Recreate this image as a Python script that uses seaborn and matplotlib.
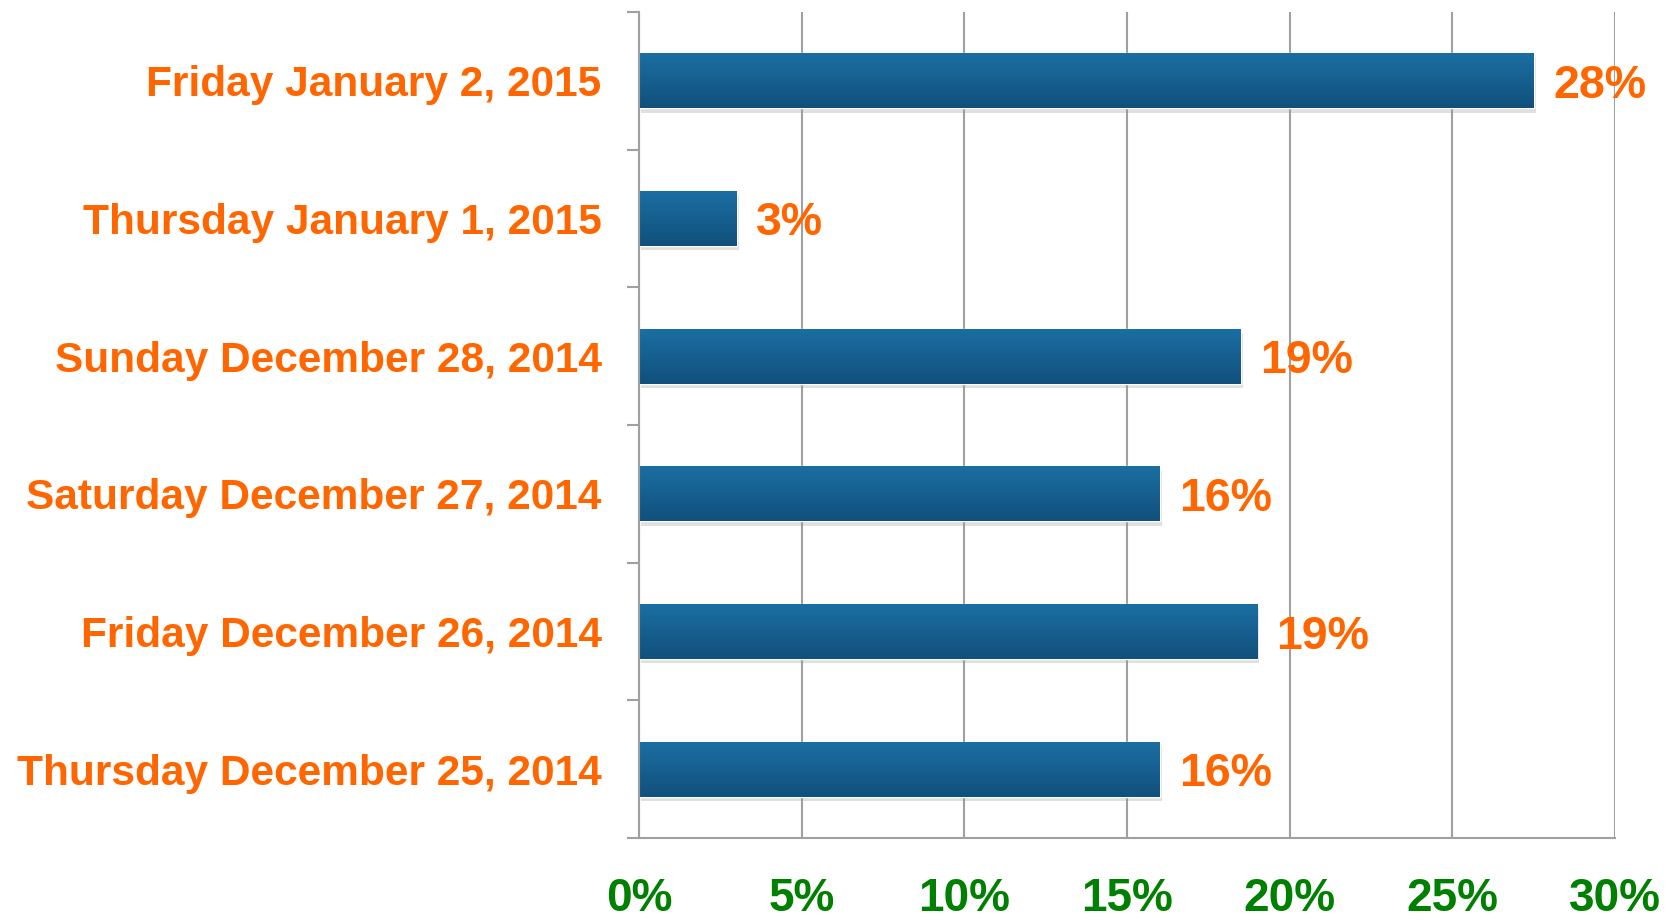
import math
import numpy as np
import pandas as pd
import matplotlib
matplotlib.use("Agg")
import matplotlib.pyplot as plt
import matplotlib.patheffects as pe
from matplotlib.colors import LinearSegmentedColormap
import seaborn as sns

# data (top to bottom as shown)
days = [
    "Friday January 2, 2015",
    "Thursday January 1, 2015",
    "Sunday December 28, 2014",
    "Saturday December 27, 2014",
    "Friday December 26, 2014",
    "Thursday December 25, 2014",
]
share = [27.5, 3.0, 18.5, 16.0, 19.0, 16.0]
x_ticks = [0, 5, 10, 15, 20, 25, 30]

df = pd.DataFrame({"day": days, "share": share})

sns.set_style("white")
plt.rcParams["font.family"] = ["Liberation Sans", "DejaVu Sans"]
plt.rcParams["font.weight"] = "bold"

orange = "#ff6600"
green = "#008000"
grid_gray = "#a0a0a0"

fig = plt.figure(figsize=(16.75, 9.21), dpi=100)
ax = fig.add_axes([0.3815, 0.0901, 0.9642 - 0.3815, 0.987 - 0.0901])

sns.barplot(data=df, x="share", y="day", orient="h", color="#196a9c",
            width=0.4, ax=ax, saturation=1)

# gradient fill + soft drop shadow for each bar
cmap = LinearSegmentedColormap.from_list("bar", ["#1b6fa3", "#11507c"])
grad = np.linspace(0, 1, 100).reshape(-1, 1)
for p in ax.patches:
    p.set_path_effects([pe.SimplePatchShadow(offset=(1.5, -3), shadow_rgbFace="#999999", alpha=0.3),
                        pe.Normal()])
    x0, y0, w, h = p.get_x(), p.get_y(), p.get_width(), p.get_height()
    im = ax.imshow(grad, cmap=cmap, aspect="auto", origin="upper",
                   extent=(x0, x0 + w, y0 + h, y0), zorder=p.get_zorder() + 0.1)
    im.set_clip_path(p)

ax.set_xlim(0, 30)
ax.set_ylim(5.5, -0.5)

# value labels (rounded half up, like the source)
for i, v in enumerate(share):
    ax.annotate(f"{math.floor(v + 0.5)}%", (v, i),
                xytext=(14, 0), textcoords="offset points",
                ha="left", va="center_baseline", fontsize=33.5, fontweight="bold", color=orange)

ax.set_xticks(x_ticks)
ax.set_xticklabels([f"{t}%" for t in x_ticks])
ax.set_yticks(range(len(days)))
ax.set_yticklabels(days)
ax.set_yticks(np.arange(-0.5, len(days), 1), minor=True)

ax.tick_params(axis="x", length=10, width=1.5, color=grid_gray, pad=18,
               labelsize=33, labelcolor=green)
ax.tick_params(axis="y", which="major", length=0, pad=27,
               labelsize=30.5, labelcolor=orange)
ax.tick_params(axis="y", which="minor", length=9, width=1.5, color=grid_gray, left=True)
for lab in ax.get_xticklabels() + ax.get_yticklabels():
    lab.set_fontweight("bold")

ax.grid(axis="x", color=grid_gray, linewidth=1.5)
ax.set_axisbelow(True)
for s in ["top", "right"]:
    ax.spines[s].set_visible(False)
for s in ["left", "bottom"]:
    ax.spines[s].set_color(grid_gray)
    ax.spines[s].set_linewidth(1.5)
ax.set_xlabel("")
ax.set_ylabel("")

fig.savefig("out.png", dpi=100)
